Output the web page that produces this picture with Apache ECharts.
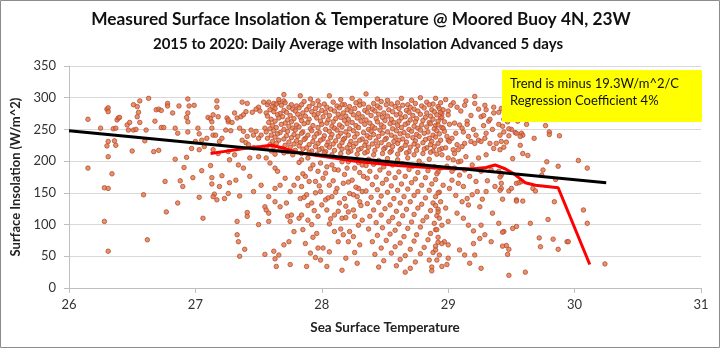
<!DOCTYPE html>
<html><head><meta charset="utf-8">
<script src="https://cdn.jsdelivr.net/npm/echarts@6/dist/echarts.min.js"></script>
<style>html,body{margin:0;padding:0;background:#fff}#c{width:720px;height:348px}</style>
</head><body><div id="c"></div>
<script>
const titleText = 'Measured Surface Insolation & Temperature @ Moored Buoy 4N, 23W';
const subtitleText = '2015 to 2020: Daily Average with Insolation Advanced 5 days';
const xAxisName = 'Sea Surface Temperature';
const yAxisName = 'Surface Insolation (W/m^2)';
const noteLines = ['Trend is minus 19.3W/m^2/C', 'Regression Coefficient 4%'];
const xTicks = [26, 27, 28, 29, 30, 31];
const yTicks = [0, 50, 100, 150, 200, 250, 300, 350];

const trendT = [26.0, 30.25];
const trendI = [248, 166];
const avgT = [27.12,27.22,27.32,27.42,27.52,27.60,27.67,27.80,27.96,28.10,28.22,28.40,28.60,28.75,28.90,29.05,29.20,29.30,29.37,29.45,29.52,29.61,29.69,29.87,30.12];
const avgI = [212,215,218,221,223,225,222,214,209,205,201,197,193,191,189,188,188,190,194,188,180,166,162,158,37];

const ptsWest = [
[26.15,266],[26.15,189],[26.25,252],[26.28,105],[26.31,58],[26.28,158],[26.31,157],[26.30,282],[26.31,284],[26.31,278],[26.31,231],[26.30,224],[26.31,207],[26.34,180],[26.35,251],[26.37,252],[26.36,232],[26.37,225],[26.38,265],[26.39,268],[26.40,269],[26.46,257],[26.48,261],[26.47,249],[26.51,249],[26.50,216],[26.51,289],[26.54,286],[26.56,295],[26.55,277],[26.54,270],[26.56,261],[26.53,250],[26.59,147],[26.61,249],[26.60,232],[26.63,299],[26.62,76],[26.68,263],[26.69,281],[26.71,282],[26.73,280],[26.67,215],[26.71,217],[26.73,253],[26.75,253],[26.76,168],[26.77,120],[26.78,291],[26.78,287],[26.82,276],[26.84,252],[26.84,203],[26.86,244],[26.87,287],[26.86,134],[26.88,169],[26.90,160],[26.91,190],[26.93,269],[26.94,276],[26.94,262],[26.94,298],[26.95,287],[26.99,288],[26.94,246],[26.93,206],[26.97,220],[26.98,174],[27.00,231],[27.02,252],[27.03,243],[27.05,233],[27.03,218],[27.03,143],[27.06,110],[27.05,185],[27.07,223],[27.09,236],[27.10,269],[27.12,267],[27.13,262],[27.14,273],[27.13,252],[27.14,241],[27.16,241],[27.17,295],[27.17,285],[27.18,270],[27.12,193],[27.13,174],[27.13,164],[27.15,148],[27.14,144],[27.17,139],[27.14,218],[27.18,212],[27.19,231],[27.21,236],[27.19,160],[27.21,177],[27.23,141],[27.25,268],[27.26,262],[27.24,249],[27.26,149],[27.27,202]
];
const ptsMidWest = [
[27.70,305],[27.37,293],[27.41,291],[27.50,285],[27.54,293],[27.57,289],[27.62,291],[27.66,293],[27.70,295],
[27.31,276],[27.33,268],[27.36,270],[27.38,273],[27.40,278],[27.45,277],[27.48,282],[27.51,279],
[27.26,265],[27.28,248],[27.29,261],
[27.35,252],[27.38,247],[27.41,239],[27.44,249],[27.46,241],[27.48,247],[27.50,236],[27.52,241],[27.55,252],
[27.37,233],[27.40,229],[27.42,226],[27.46,221],
[27.26,215],[27.31,210],[27.34,194],[27.38,189],[27.43,205],[27.50,207],[27.56,205],[27.59,197],[27.63,189],[27.65,184],
[27.27,166],[27.32,170],[27.35,145],[27.43,176],[27.46,152],[27.52,162],[27.58,144],[27.63,157],[27.67,162],[27.71,173],[27.75,152],[27.78,162],
[27.41,119],[27.41,113],[27.55,128],[27.56,123],[27.58,118],[27.63,136],[27.67,128],[27.72,134],[27.73,113],[27.76,115],
[27.33,105],[27.50,100],[27.58,105],[27.75,105],[27.78,89],
[27.33,84],[27.34,73],[27.39,61],[27.35,50],
[27.55,53],[27.62,58],[27.66,52],[27.63,46],[27.64,34],[27.75,37],[27.74,73],[27.70,68]
];
const ptsCentralLow = [
[27.84,202],[27.89,205],[27.93,194],[27.97,184],[28.04,191],[28.08,194],[28.13,186],[28.21,199],[28.26,189],[28.32,194],
[27.81,173],[27.87,176],[27.95,168],[28.01,173],[28.06,162],[28.12,157],[28.17,165],[28.24,170],[28.29,157],[28.33,176],
[27.83,141],[27.88,147],[27.92,134],[27.99,152],[28.03,139],[28.08,144],[28.14,134],[28.18,141],[28.25,147],[28.30,136],[28.32,152],
[27.84,115],[27.89,107],[27.97,113],[28.04,123],[28.10,115],[28.16,110],[28.21,120],[28.26,113],[28.32,107],
[27.87,70],[27.91,55],[27.96,86],[27.97,63],[28.01,63],[28.10,89],[28.13,73],[28.17,84],[28.21,73],[28.22,89],[28.30,68],[28.28,39],
[27.88,34],[28.04,34],[28.16,28],[27.99,44],
[27.82,198],[27.99,197],[28.16,199],[28.29,198],[27.91,188],[28.10,187],[28.20,189],[27.85,180],[28.03,181],[28.18,179],[28.30,182],
[27.90,168],[28.09,169],[28.21,167],[27.84,160],[27.98,161],[28.27,159],[27.95,150],[28.11,151],[28.22,149],[27.86,143],[28.05,142],[28.28,144],
[27.89,130],[28.00,131],[28.19,129],[28.31,130],[27.94,122],[28.13,121],[28.25,123],[27.82,110],[28.07,109],[28.19,111],[27.92,100],[28.06,101],[28.29,99],
[27.85,92],[28.15,93],[27.93,80],[28.25,81],[28.06,57],[28.26,56],[27.95,48],[28.19,47]
];
const ptsEastLow = [
[28.37,203],[28.45,201],[28.52,204],[28.60,202],[28.68,205],[28.77,200],[28.85,203],
[28.35,193],[28.41,195],[28.49,191],[28.56,194],[28.64,196],[28.72,192],[28.80,194],[28.89,191],
[28.38,184],[28.46,186],[28.53,181],[28.61,183],[28.69,187],[28.76,182],[28.84,185],[28.92,183],
[28.36,173],[28.43,175],[28.51,171],[28.58,174],[28.66,176],[28.74,172],[28.82,174],[28.90,171],
[28.40,163],[28.48,165],[28.55,161],[28.63,164],[28.71,166],[28.79,162],[28.87,164],
[28.35,153],[28.44,155],[28.52,151],[28.60,154],[28.68,156],[28.76,152],[28.85,154],[28.93,151],
[28.39,143],[28.47,145],[28.57,141],[28.65,144],[28.73,146],[28.82,142],[28.90,144],
[28.36,133],[28.45,135],[28.54,131],[28.62,134],[28.70,136],[28.79,132],[28.88,134],
[28.41,123],[28.50,125],[28.59,121],[28.67,124],[28.76,126],[28.86,122],[28.92,124],
[28.38,113],[28.47,115],[28.56,111],[28.64,114],[28.73,116],[28.83,112],[28.91,114],
[28.43,103],[28.53,105],[28.61,101],[28.71,104],[28.80,106],[28.89,102],
[28.37,93],[28.48,95],[28.58,91],[28.68,94],[28.78,96],[28.90,92],
[28.44,83],[28.54,85],[28.65,81],[28.75,84],[28.86,86],
[28.40,73],[28.51,75],[28.62,71],[28.73,74],[28.84,76],[28.92,72],
[28.47,63],[28.58,65],[28.70,61],[28.81,64],[28.90,66],
[28.42,53],[28.55,55],[28.66,51],[28.78,54],[28.88,56],
[28.49,43],[28.62,45],[28.74,41],[28.85,44],
[28.45,33],[28.59,35],[28.70,31],[28.87,33],[28.66,25],[28.87,27]
];
const ptsCore = [
[27.83,303],[27.66,297],[27.91,298],[28.06,303],[28.15,297],[28.24,299],[28.35,306],[28.44,298],[28.52,296],[28.63,299],[28.78,300],[28.90,299],[28.71,296],[27.97,295],[28.30,295],
[27.58,293],[27.64,290],[27.71,292],[27.76,289],[27.86,294],[27.93,291],[28.02,290],[28.09,293],[28.18,289],[28.27,292],[28.33,290],[28.41,291],[28.47,294],[28.55,290],[28.60,292],[28.68,289],[28.74,291],[28.83,293],[28.88,290],[28.94,292],
[27.61,286],[27.68,288],[27.74,285],[27.80,287],[27.84,289],[27.90,286],[27.98,288],[28.04,285],[28.12,287],[28.16,289],[28.22,286],[28.30,288],[28.37,285],[28.44,287],[28.51,289],[28.58,286],[28.64,288],[28.70,285],[28.79,287],[28.85,289],[28.92,286],
[27.59,281],[27.63,283],[27.70,280],[27.77,282],[27.82,284],[27.88,281],[27.95,283],[28.00,280],[28.07,282],[28.14,284],[28.20,281],[28.26,283],[28.34,280],[28.40,282],[28.46,284],[28.53,281],[28.61,283],[28.67,280],[28.73,282],[28.81,284],[28.87,281],[28.93,283],
[27.56,276],[27.62,278],[27.67,275],[27.72,277],[27.79,279],[27.85,276],[27.92,278],[27.97,275],[28.03,277],[28.10,279],[28.17,276],[28.23,278],[28.29,275],[28.36,277],[28.42,279],[28.49,276],[28.56,278],[28.62,275],[28.69,277],[28.76,279],[28.83,276],[28.89,278],[28.95,275],
[27.57,271],[27.65,273],[27.69,270],[27.75,272],[27.81,274],[27.87,271],[27.94,273],[28.01,270],[28.06,272],[28.13,274],[28.19,271],[28.25,273],[28.32,270],[28.39,272],[28.45,274],[28.52,271],[28.59,273],[28.66,270],[28.72,272],[28.78,274],[28.86,271],[28.91,273],
[27.60,266],[27.66,268],[27.73,265],[27.78,267],[27.83,269],[27.90,266],[27.96,268],[28.05,265],[28.11,267],[28.15,269],[28.21,266],[28.28,268],[28.35,265],[28.43,267],[28.48,269],[28.55,266],[28.63,268],[28.70,265],[28.75,267],[28.82,269],[28.88,266],[28.94,268],
[27.58,261],[27.63,263],[27.71,260],[27.76,262],[27.84,264],[27.89,261],[27.99,263],[28.04,260],[28.09,262],[28.18,264],[28.24,261],[28.31,263],[28.38,260],[28.44,262],[28.50,264],[28.57,261],[28.61,263],[28.68,260],[28.74,262],[28.80,264],[28.85,261],[28.92,263],
[27.61,256],[27.68,258],[27.74,255],[27.80,257],[27.86,259],[27.93,256],[28.00,258],[28.08,255],[28.14,257],[28.20,259],[28.27,256],[28.34,258],[28.40,255],[28.47,257],[28.54,259],[28.60,256],[28.66,258],[28.73,255],[28.79,257],[28.86,259],[28.90,256],
[27.59,251],[27.64,253],[27.70,250],[27.77,252],[27.82,254],[27.91,251],[27.97,253],[28.03,250],[28.10,252],[28.16,254],[28.22,251],[28.29,253],[28.37,250],[28.42,252],[28.49,254],[28.56,251],[28.63,253],[28.69,250],[28.76,252],[28.83,254],[28.89,251],[28.95,253],
[27.56,246],[27.62,248],[27.67,245],[27.73,247],[27.79,249],[27.85,246],[27.92,248],[27.98,245],[28.06,247],[28.12,249],[28.19,246],[28.25,248],[28.33,245],[28.39,247],[28.46,249],[28.52,246],[28.59,248],[28.65,245],[28.71,247],[28.78,249],[28.84,246],[28.91,248],
[27.60,241],[27.65,243],[27.72,240],[27.78,242],[27.84,244],[27.89,241],[27.96,243],[28.02,240],[28.08,242],[28.15,244],[28.21,241],[28.28,243],[28.36,240],[28.41,242],[28.48,244],[28.55,241],[28.62,243],[28.68,240],[28.75,242],[28.81,244],[28.88,241],[28.93,243],
[27.57,236],[27.63,238],[27.70,235],[27.76,237],[27.81,239],[27.87,236],[27.94,238],[28.01,235],[28.07,237],[28.13,239],[28.18,236],[28.26,238],[28.32,235],[28.38,237],[28.45,239],[28.51,236],[28.58,238],[28.64,235],[28.72,237],[28.77,239],[28.85,236],[28.90,238],
[27.61,231],[27.66,233],[27.74,230],[27.80,232],[27.86,234],[27.93,231],[27.99,233],[28.05,230],[28.11,232],[28.17,234],[28.23,231],[28.30,233],[28.35,230],[28.43,232],[28.50,234],[28.57,231],[28.61,233],[28.67,230],[28.74,232],[28.82,234],[28.87,231],[28.94,233],
[27.59,226],[27.64,228],[27.71,225],[27.78,227],[27.83,229],[27.90,226],[27.97,228],[28.04,225],[28.09,227],[28.16,229],[28.22,226],[28.27,228],[28.34,225],[28.40,227],[28.47,229],[28.53,226],[28.60,228],[28.66,225],[28.73,227],[28.80,229],[28.86,226],[28.92,228],
[27.56,221],[27.62,223],[27.69,220],[27.75,222],[27.82,224],[27.88,221],[27.95,223],[28.00,220],[28.06,222],[28.14,224],[28.20,221],[28.25,223],[28.31,220],[28.37,222],[28.44,224],[28.50,221],[28.56,223],[28.63,220],[28.70,222],[28.76,224],[28.83,221],[28.89,223],[28.95,220],
[27.60,216],[27.67,218],[27.73,215],[27.79,217],[27.85,219],[27.92,216],[27.98,218],[28.03,215],[28.10,217],[28.16,219],[28.23,216],[28.29,218],[28.36,215],[28.42,217],[28.49,219],[28.55,216],[28.62,218],[28.69,215],[28.75,217],[28.81,219],[28.88,216],[28.93,218],
[27.63,211],[27.70,213],[27.77,210],[27.84,212],[27.90,214],[27.96,211],[28.02,213],[28.08,210],[28.15,212],[28.21,214],[28.28,211],[28.34,213],[28.41,210],[28.48,212],[28.54,214],[28.60,211],[28.67,213],[28.73,210],[28.80,212],[28.86,214],[28.91,211]
];
const ptsEast = [
[29.21,302],[29.14,295],[29.13,288],[29.21,291],[29.24,282],[29.30,281],[29.36,276],[29.40,277],[29.40,258],[29.32,263],[29.33,266],
[28.94,277],[28.96,281],[29.00,279],[29.00,273],[28.95,269],[28.97,262],[29.01,258],[28.92,257],[28.96,252],
[29.05,260],[29.09,257],[29.11,252],[29.15,263],[29.15,258],
[28.99,239],[29.00,233],[29.01,231],[29.03,236],[29.07,226],[29.04,218],[29.08,218],[29.11,223],[29.13,228],[29.16,239],[29.18,231],[29.21,228],[29.24,233],[29.26,231],[29.29,236],[29.30,244],[29.33,228],[29.36,220],[29.38,228],[29.41,218],[29.42,231],
[28.95,210],[29.00,205],[29.04,202],[29.08,199],[28.94,189],[28.99,192],[29.03,184],[29.05,189],[29.09,178],[29.13,186],[29.19,194],[29.24,205],[29.26,184],[29.30,210],[29.34,186],[29.40,184],[29.42,178],
[28.96,162],[29.01,157],[29.08,165],[29.11,136],[29.15,141],[29.16,131],[29.19,147],[29.23,152],[29.25,128],[29.30,152],[29.37,160],[29.42,157],
[28.94,136],[28.92,120],[29.00,105],[28.95,99],[29.16,99],[29.26,99],[29.40,102],[29.44,89],[28.97,73],[29.00,68],[28.95,70],[29.34,73],[29.29,84],[29.20,70],[29.25,78],
[28.91,44],[28.95,34],[29.00,47],[29.13,52],[29.17,39],[29.21,52],[29.26,31],[28.99,37],
[29.04,292],[29.07,285],[28.98,297],[29.10,279],[29.02,288],[29.18,272],[29.26,270],[29.12,246],[29.06,244],[29.20,250],[29.28,256],[29.35,250],[29.22,241],[28.97,247],[29.05,212],[29.14,207],[28.98,221],[29.10,200],[29.17,176],[29.22,168],[29.03,170],[29.12,160],[29.31,169],[29.27,140],[29.06,146],[28.98,126],[29.07,118],[29.12,110],[29.35,118],[29.20,90],[29.09,60],
[28.91,180],[28.92,150],[28.90,130],[28.93,110],[28.91,92],[28.92,80],[28.90,60],[28.93,52]
];
const ptsFarEast = [
[29.29,288],[29.36,285],[29.28,272],[29.42,283],[29.45,275],[29.44,266],[29.47,262],[29.43,255],[29.50,250],[29.44,246],[29.48,240],[29.41,241],[29.46,230],[29.52,272],[29.49,285],[29.55,263],[29.53,245],[29.60,280],[29.63,268],[29.57,225],[29.44,222],
[29.48,251],[29.62,258],[29.77,256],[29.54,244],[29.58,244],[29.59,241],[29.57,239],[29.68,236],[29.80,246],[29.80,242],[29.88,240],
[29.59,212],[29.63,209],[29.51,204],[29.78,199],[30.03,201],[29.87,192],[30.10,189],[29.75,186],[29.74,178],[29.85,171],
[29.41,175],[29.42,165],[29.41,154],[29.54,165],[29.56,166],[29.58,168],[29.48,153],[29.50,157],[29.67,157],[29.69,153],
[29.43,140],[29.54,139],[29.54,137],[29.59,137],[29.84,136],[30.07,123],[30.10,102],[29.79,108],[29.65,102],[29.54,97],[29.51,94],[29.43,88],[29.72,79],[29.83,77],[29.94,73],[29.95,73],[29.46,67],[29.43,66],[29.73,65],[29.48,61],[29.47,53],[29.87,61],[30.24,38],[29.48,20],[29.61,25]
];

const scatterData = [].concat(ptsWest, ptsMidWest, ptsCentralLow, ptsEastLow, ptsCore, ptsEast, ptsFarEast);
const avgData = avgT.map((t, i) => [t, avgI[i]]);
const trendData = trendT.map((t, i) => [t, trendI[i]]);

const FONT = 'Lato, "Liberation Sans", sans-serif';
const chart = echarts.init(document.getElementById('c'), null, {renderer: 'canvas'});
chart.setOption({
  animation: false,
  backgroundColor: '#fff',
  grid: {left: 69, right: 19, top: 66, bottom: 60},
  xAxis: {
    type: 'value', min: xTicks[0], max: xTicks[xTicks.length - 1], interval: 1,
    name: xAxisName, nameLocation: 'middle', nameGap: 33,
    nameTextStyle: {fontFamily: FONT, fontWeight: 'bold', fontSize: 13.5, color: '#222'},
    axisLine: {show: true, lineStyle: {color: '#BFBFBF'}},
    axisTick: {show: true, length: 5, lineStyle: {color: '#BFBFBF'}},
    axisLabel: {fontFamily: FONT, fontSize: 13, color: '#333', margin: 10},
    splitLine: {show: false}
  },
  yAxis: {
    type: 'value', min: yTicks[0], max: yTicks[yTicks.length - 1], interval: 50,
    name: yAxisName, nameLocation: 'middle', nameGap: 40, nameRotate: 90,
    nameTextStyle: {fontFamily: FONT, fontWeight: 'bold', fontSize: 13, color: '#222'},
    axisLine: {show: true, lineStyle: {color: '#BFBFBF'}},
    axisTick: {show: true, length: 5, lineStyle: {color: '#BFBFBF'}},
    axisLabel: {fontFamily: FONT, fontSize: 13, color: '#333', margin: 13},
    splitLine: {show: true, lineStyle: {color: '#D9D9D9', width: 1}}
  },
  series: [
    {type: 'scatter', data: scatterData, symbol: 'circle', symbolSize: 4.5,
     itemStyle: {color: '#DE7A3A', borderColor: '#B9483F', borderWidth: 1}, z: 2, silent: true},
    {type: 'line', data: avgData, symbol: 'none', lineStyle: {color: '#FF0000', width: 3}, z: 3, silent: true},
    {type: 'line', data: trendData, symbol: 'none', lineStyle: {color: '#000000', width: 3}, z: 4, silent: true}
  ],
  graphic: [
    {type: 'rect', shape: {x: 0.5, y: 0.5, width: 719, height: 347}, style: {fill: 'none', stroke: '#8C8C8C', lineWidth: 1}, z: 100},
    {type: 'text', x: 361, y: 19, style: {text: titleText, fontFamily: FONT, fontWeight: 'bold', fontSize: 17.3, fill: '#111', textAlign: 'center', textVerticalAlign: 'middle'}},
    {type: 'text', x: 358, y: 44, style: {text: subtitleText, fontFamily: FONT, fontWeight: 'bold', fontSize: 15, fill: '#111', textAlign: 'center', textVerticalAlign: 'middle'}},
    {type: 'rect', shape: {x: 502, y: 70, width: 200, height: 52}, style: {fill: '#FFFF00'}, z: 50},
    {type: 'text', x: 510, y: 84, style: {text: noteLines[0], fontFamily: FONT, fontSize: 13, fill: '#111', textVerticalAlign: 'middle'}, z: 51},
    {type: 'text', x: 510, y: 101, style: {text: noteLines[1], fontFamily: FONT, fontSize: 13, fill: '#111', textVerticalAlign: 'middle'}, z: 51}
  ]
});
</script></body></html>
